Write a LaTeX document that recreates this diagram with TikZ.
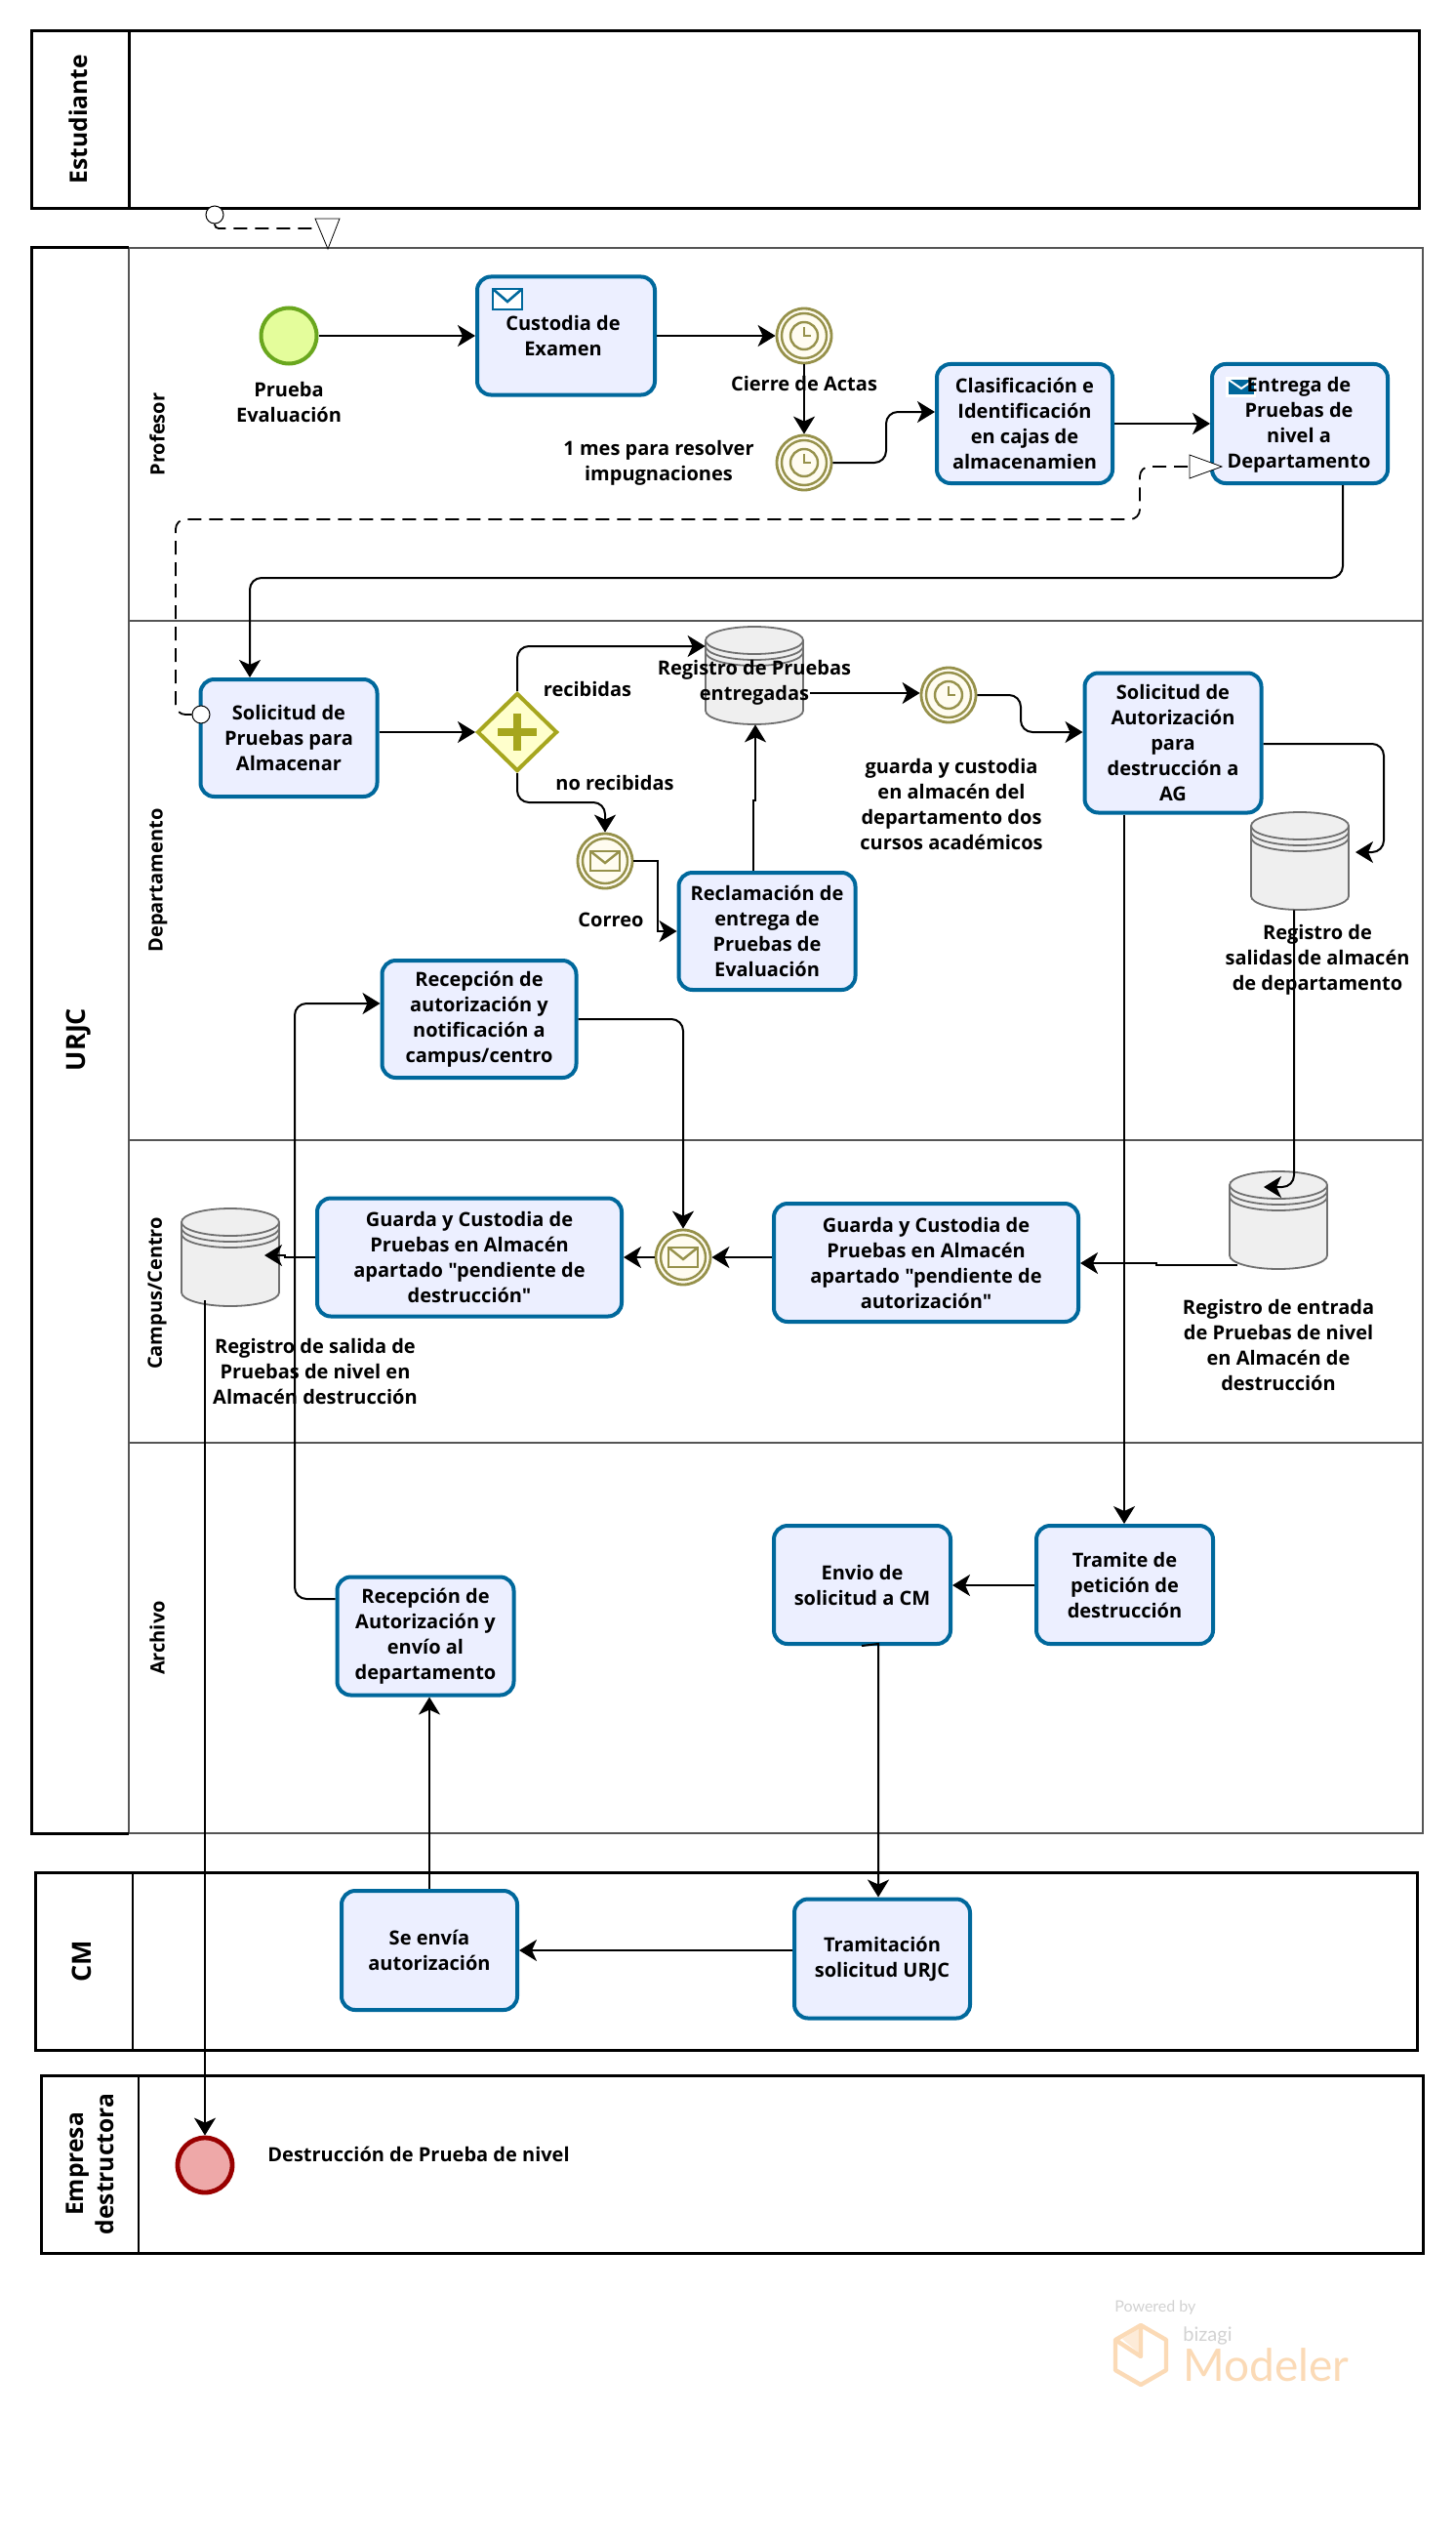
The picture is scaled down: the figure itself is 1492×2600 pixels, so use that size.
\documentclass[tikz,border=0pt]{standalone}
\usepackage{fontspec}
\setmainfont{Open Sans}[Ligatures=TeXOff]
\newfontfamily\wmfont{Lato}
\usetikzlibrary{arrows.meta,shapes.geometric,calc}
\definecolor{taskblue}{HTML}{00689C}
\definecolor{taskfill}{HTML}{ECEFFF}
\definecolor{lanegray}{HTML}{555555}
\definecolor{startstroke}{HTML}{6AA71E}
\definecolor{startfill}{HTML}{E4FD9B}
\definecolor{endstroke}{HTML}{990000}
\definecolor{endfill}{HTML}{EEA8A8}
\definecolor{gwfill}{HTML}{FFFFCC}
\definecolor{gwstroke}{HTML}{A6A61E}
\definecolor{evstroke}{HTML}{96914B}
\definecolor{evfill}{HTML}{FFFCF0}
\definecolor{storefill}{HTML}{EFEFEF}
\definecolor{storestroke}{HTML}{707070}
\definecolor{wmgray}{HTML}{D2D2D2}
\definecolor{wmorange}{HTML}{FBDAB6}
\definecolor{wmorangeb}{HTML}{FDEBD8}
\tikzset{
  task/.style={draw=taskblue,fill=taskfill,line width=2pt,rounded corners=7pt,
    align=center,inner sep=0pt,font=\bfseries\fontsize{10pt}{13pt}\selectfont},
  lbl/.style={align=center,inner sep=0pt,font=\bfseries\fontsize{10pt}{13pt}\selectfont},
  lanelbl/.style={rotate=90,inner sep=0pt,font=\bfseries\fontsize{10pt}{12pt}\selectfont},
  poollbl/.style={rotate=90,align=center,inner sep=0pt,font=\bfseries\fontsize{12.3pt}{15.5pt}\selectfont},
  poollblb/.style={poollbl,font=\bfseries\fontsize{13.5pt}{15.5pt}\selectfont},
  flow/.style={draw=black,line width=1pt,-{Stealth[length=9pt,width=11pt,inset=2.5pt]}},
  msgflow/.style={draw=black,line width=.9pt,dash pattern=on 7pt off 4pt},
  msgtip/.style={draw=black,fill=white,line width=.4pt},
  msgstart/.style={circle,draw=black,fill=white,line width=.5pt,minimum size=9pt,inner sep=0pt},
  poolline/.style={draw=black,line width=1.5pt},
  laneline/.style={draw=lanegray,line width=1.2pt},
  startev/.style={circle,draw=startstroke,fill=startfill,line width=2pt,minimum size=28.5pt,inner sep=0pt},
  endev/.style={circle,draw=endstroke,fill=endfill,line width=2.4pt,minimum size=28pt,inner sep=0pt},
  midev/.style={circle,draw=evstroke,fill=evfill,line width=1.4pt,minimum size=28pt,inner sep=0pt},
  midevin/.style={draw=evstroke,line width=1.2pt},
  gateway/.style={diamond,draw=gwstroke,fill=gwfill,line width=2pt,minimum width=41pt,minimum height=40pt,inner sep=0pt},
  storebox/.style={inner sep=0pt,minimum width=50pt,minimum height=50pt},
  storeline/.style={draw=storestroke,fill=storefill,line width=.9pt},
  storearc/.style={draw=storestroke,line width=.9pt},
}
\newcommand{\timerevent}[2]{%
  \node[midev] (#1) at (#2) {};
  \begin{scope}[shift={(#2)}]
    \draw[midevin] (0,0) circle[radius=11.5pt];
    \draw[midevin] (0,0) circle[radius=7pt];
    \draw[midevin] (0,-9) -- (0,0) -- (7,0);
  \end{scope}}
\newcommand{\mailevent}[2]{%
  \node[midev] (#1) at (#2) {};
  \begin{scope}[shift={(#2)}]
    \draw[midevin] (0,0) circle[radius=11.5pt];
    \draw[midevin] (-15,-10) rectangle (15,10);
    \draw[midevin] (-15,-10) -- (0,2) -- (15,-10);
  \end{scope}}
\newcommand{\datastore}[2]{%
  \node[storebox] (#1) at (#2) {};
  \begin{scope}[shift={(#2)}]
    \path[storeline] (-50,-36) arc[start angle=180,end angle=0,x radius=25pt,y radius=7pt]
      -- (50,36) arc[start angle=0,end angle=-180,x radius=25pt,y radius=7pt] -- cycle;
    \path[storearc] (-50,-36) arc[start angle=180,end angle=360,x radius=25pt,y radius=7pt];
    \path[storearc] (-50,-30) arc[start angle=180,end angle=360,x radius=25pt,y radius=7pt];
    \path[storearc] (-50,-24) arc[start angle=180,end angle=360,x radius=25pt,y radius=7pt];
  \end{scope}}
\begin{document}
\begin{tikzpicture}[x=0.5pt,y=-0.5pt]
\useasboundingbox (0,0) rectangle (1492,2600);
\fill[white] (0,0) rectangle (1492,2600);

% pools and lanes
\draw[poolline] (32,32) rectangle (1454,214);
\draw[poolline] (132,32) -- (132,214);
\draw[laneline] (132,254) rectangle (1458,1878);
\draw[laneline] (132,636) -- (1458,636);
\draw[laneline] (132,1168) -- (1458,1168);
\draw[laneline] (132,1478) -- (1458,1478);
\draw[poolline] (132,254) -- (32,254) -- (32,1878) -- (132,1878);
\draw[poolline] (36,1918) rectangle (1452,2100);
\draw[poolline,line width=1pt] (136,1918) -- (136,2100);
\draw[poolline] (42,2126) rectangle (1458,2308);
\draw[poolline,line width=1pt] (142,2126) -- (142,2308);

\node[poollbl] (pEst) at (80,122) {Estudiante};
\node[poollblb] (pUrjc) at (81,1065) {URJC};
\node[poollblb] (pCm) at (84,2009) {CM};
\node[poollbl] (pEmp) at (92,2217) {Empresa\\destructora};
\node[lanelbl] (lProf) at (161,445) {Profesor};
\node[lanelbl] (lDep) at (162,902) {Departamento};
\node[lanelbl] (lCamp) at (161,1325) {Campus/Centro};
\node[lanelbl] (lArch) at (161,1678) {Archivo};

% events and gateway
\node[startev] (start) at (296,344) {};
\node[endev] (finish) at (210,2218) {};
\timerevent{t1}{824,344}
\timerevent{t2}{824,474}
\timerevent{t3}{972,712}
\mailevent{m1}{620,882}
\mailevent{m2}{700,1288}
\node[gateway] (gw) at (530,750) {};
\fill[gwstroke] (510,746) rectangle (550,754);
\fill[gwstroke] (526,731) rectangle (534,769);

% data stores
\datastore{s1}{773,692}
\datastore{s2}{1332,882}
\datastore{s3}{1310,1250}
\datastore{s4}{236,1288}

% tasks
\node[task,minimum width=91pt,minimum height=60.5pt] (custodia) at (580,344) {};
\node[task,minimum width=90pt,minimum height=61pt] (clasif) at (1050,434) {Clasificación e\\Identificación\\en cajas de\\almacenamien};
\node[task,minimum width=90pt,minimum height=61pt] (entrega) at (1332,434) {};
\node[task,minimum width=90.5pt,minimum height=60pt] (solicitud) at (296,756) {Solicitud de\\Pruebas para\\Almacenar};
\node[task,minimum width=90.5pt,minimum height=60pt] (reclam) at (786,954) {Reclamación de\\entrega de\\Pruebas de\\Evaluación};
\node[task,minimum width=90.5pt,minimum height=71.5pt] (autor) at (1202,761) {Solicitud de\\Autorización\\para\\destrucción a\\AG};
\node[task,minimum width=99.5pt,minimum height=60pt] (recep1) at (491,1044) {Recepción de\\autorización y\\notificación a\\campus/centro};
\node[task,minimum width=156pt,minimum height=60.5pt] (g2) at (949,1293.5) {Guarda y Custodia de\\Pruebas en Almacén\\apartado "pendiente de\\autorización"};
\node[task,minimum width=156pt,minimum height=60.5pt] (g1) at (481,1288) {Guarda y Custodia de\\Pruebas en Almacén\\apartado "pendiente de\\destrucción"};
\node[task,minimum width=90.5pt,minimum height=60.5pt] (recep2) at (436,1676) {Recepción de\\Autorización y\\envío al\\departamento};
\node[task,minimum width=90.5pt,minimum height=60.5pt] (envio) at (883.5,1623.5) {Envio de\\solicitud a CM};
\node[task,minimum width=90.5pt,minimum height=60.5pt] (tramite) at (1152.5,1623.5) {Tramite de\\petición de\\destrucción};
\node[task,minimum width=90pt,minimum height=61pt] (seenvia) at (440,1998) {Se envía\\autorización};
\node[task,minimum width=90pt,minimum height=61pt] (tramit) at (904,2006.5) {Tramitación\\solicitud URJC};

% task icons, under the task texts
\draw[draw=taskblue,fill=white,line width=1.3pt] (505,296) rectangle (535,317);
\draw[draw=taskblue,line width=1.3pt] (505,296) -- (520,309) -- (535,296);
\fill[white] (1256,386) rectangle (1287,407);
\fill[taskblue] (1259,389) rectangle (1285,404);
\draw[white,line width=1pt] (1259,389) -- (1272,398) -- (1285,389);
\node[lbl] (custodiaTxt) at (577,344) {Custodia de\\Examen};
\node[lbl] (entregaTxt) at (1331,435.5) {Entrega de\\Pruebas de\\nivel a\\Departamento};

% connector ends that are not on a node
\coordinate (topTip) at (326,234);
\coordinate (dashTip) at (1219,478);
\coordinate (s1out) at (830,710);
\coordinate (s2in) at (1389,873);
\coordinate (s3in) at (1295,1216);
\coordinate (s3out) at (1268,1296);
\coordinate (s4in) at (271,1286);
\coordinate (s4out) at (210,1332);

% message flows
\node[msgstart] (ms1) at (220,220) {};
\node[msgstart] (ms2) at (206,732) {};
\draw[msgflow,rounded corners=2pt] (ms1.south) |- (topTip);
\draw[msgtip] (323,224) -- (348,224) -- (336,255) -- cycle;
\draw[msgflow,rounded corners=5pt] (ms2.west) -- (180,732) -- (180,532) -- (1168,532) -- (1168,478) -- (dashTip);
\draw[msgtip] (1219,466) -- (1252,478) -- (1219,490) -- cycle;

% sequence flows
\draw[flow] (start.east) -- (custodia.west);
\draw[flow] (custodia.east) -- (t1.west);
\draw[flow] (t1.south) -- (t2.north);
\draw[flow,rounded corners=6pt] (t2.east) -- (908,474) -- (908,422) -- (clasif.west |- 0,422);
\draw[flow] (clasif.east) -- (entrega.west);
\draw[flow,rounded corners=6pt] (entrega.south -| 1376,0) -- (1376,592) -- (256,592) -- (solicitud.north -| 256,0);
\draw[flow] (solicitud.east |- 0,750) -- (gw.west);
\draw[flow,rounded corners=6pt] (gw.north) -- (530,662) -- (s1.west |- 0,662);
\draw[flow,rounded corners=6pt] (gw.south) -- (530,822) -- (620,822) -- (m1.north);
\draw[flow] (m1.east) -- (674,882) -- (674,954) -- (reclam.west);
\draw[flow] (reclam.north -| 772,0) -- (772,820) -- (774,820) -- (s1.south -| 774,0);
\draw[flow] (s1out) -- (t3.west |- 0,710);
\draw[flow,rounded corners=6pt] (t3.east) -- (1046,712) -- (1046,750) -- (autor.west |- 0,750);
\draw[flow,rounded corners=6pt] (autor.east |- 0,762) -- (1418,762) -- (1418,873) -- (s2in);
\draw[flow,rounded corners=6pt] (s2.south -| 1326,0) -- (1326,1216) -- (s3in);
\draw[flow] (s3out) -- (1185,1296) -- (1185,1294) -- (g2.east |- 0,1294);
\draw[flow] (autor.south -| 1152,0) -- (tramite.north -| 1152,0);
\draw[flow] (tramite.west |- 0,1624) -- (envio.east |- 0,1624);
\draw[flow] (envio.south -| 883,0) -- (900,1684) -- (tramit.north -| 900,0);
\draw[flow] (tramit.west |- 0,1998) -- (seenvia.east |- 0,1998);
\draw[flow] (seenvia.north -| 440,0) -- (recep2.south -| 440,0);
\draw[flow,rounded corners=6pt] (recep2.west |- 0,1638) -- (302,1638) -- (302,1028) -- (recep1.west |- 0,1028);
\draw[flow,rounded corners=6pt] (recep1.east) -- (700,1044) -- (m2.north);
\draw[flow] (g2.west |- 0,1288) -- (m2.east);
\draw[flow] (m2.west) -- (g1.east);
\draw[flow] (g1.west) -- (292,1288) -- (292,1286) -- (s4in);
\draw[flow] (s4out) -- (finish.north);

% free labels
\node[lbl] (lb1) at (296,412) {Prueba\\Evaluación};
\node[lbl] (lb2) at (824,393) {Cierre de Actas};
\node[lbl] (lb3) at (675,474) {1 mes para resolver\\impugnaciones};
\node[lbl] (lb4) at (773,699.5) {Registro de Pruebas\\entregadas};
\node[lbl] (lb5) at (602,706) {recibidas};
\node[lbl] (lb6) at (630,802) {no recibidas};
\node[lbl] (lb7) at (626,942) {Correo};
\node[lbl] (lb8) at (975,824) {guarda y custodia\\en almacén del\\departamento dos\\cursos académicos};
\node[lbl] (lb9) at (1350,983) {Registro de\\salidas de almacén\\de departamento};
\node[lbl] (lb10) at (1310,1378) {Registro de entrada\\de Pruebas de nivel\\en Almacén de\\destrucción};
\node[lbl] (lb11) at (323,1405) {Registro de salida de\\Pruebas de nivel en\\Almacén destrucción};
\node[lbl,anchor=west] (lb12) at (274,2207) {Destrucción de Prueba de nivel};

% watermark
\node[anchor=west,inner sep=0pt,text=wmgray,font=\wmfont\fontsize{8pt}{10pt}\selectfont] (wm1) at (1142,2364) {Powered by};
\node[anchor=west,inner sep=0pt,text=wmgray,font=\wmfont\fontsize{10pt}{10pt}\selectfont] (wm2) at (1212,2393) {bizagi};
\node[anchor=west,inner sep=0pt,text=wmorange,font=\wmfont\fontsize{23pt}{24pt}\selectfont] (wm3) at (1212,2423) {Modeler};
\fill[wmorangeb] (1150,2396) -- (1169,2384) -- (1169,2412) -- cycle;
\draw[wmorange,line width=2.2pt,line join=round] (1169,2382) -- (1195,2397) -- (1195,2428) -- (1169,2443) -- (1143,2428) -- (1143,2397) -- cycle;
\draw[wmorange,line width=2.2pt,line join=round] (1143,2397) -- (1169,2414) -- (1169,2382);
\end{tikzpicture}
\end{document}
